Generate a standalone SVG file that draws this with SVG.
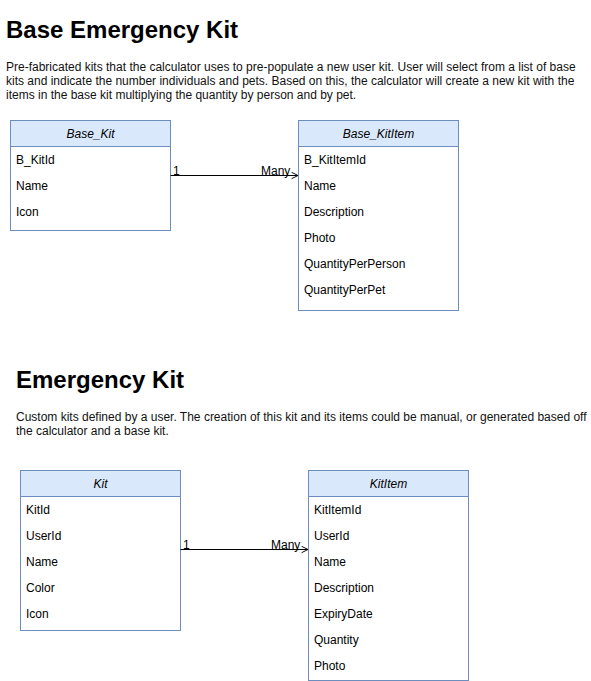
<svg xmlns="http://www.w3.org/2000/svg" width="591" height="681" viewBox="0 0 591 681">
<style>
text{font-family:"Liberation Sans",Arial,sans-serif;fill:#000}
.h{font-size:24px;font-weight:bold}
.p{font-size:12px;fill:#111}
.box{fill:#fff;stroke:#6c8ebf;stroke-width:1}
.hdr{fill:#dae8fc;stroke:#6c8ebf;stroke-width:1}
.t{font-size:12px}
.ti{font-size:12px;font-style:italic;text-anchor:middle}
.edge{stroke:#000;stroke-width:1;fill:none}
.lbl{font-size:12px}
</style>
<defs>
<marker id="open" viewBox="0 0 10 10" refX="9" refY="5" markerWidth="8" markerHeight="8" markerUnits="userSpaceOnUse" orient="auto">
<path d="M1,1 L9,5 L1,9" fill="none" stroke="#000" stroke-width="1.2"/>
</marker>
</defs>
<rect width="591" height="681" fill="#fff"/>
<g id="title1">
<text class="h" x="6" y="38">Base Emergency Kit</text>
<text class="p" x="6" y="71">Pre-fabricated kits that the calculator uses to pre-populate a new user kit. User will select from a list of base</text>
<text class="p" x="6" y="85">kits and indicate the number individuals and pets. Based on this, the calculator will create a new kit with the</text>
<text class="p" x="6" y="99">items in the base kit multiplying the quantity by person and by pet.</text>
</g>
<g id="base_kit">
<rect class="box" x="10.5" y="120.5" width="160" height="110"/>
<rect class="hdr" x="10.5" y="120.5" width="160" height="26"/>
<text class="ti" x="90.5" y="138">Base_Kit</text>
<text class="t" x="16" y="164">B_KitId</text>
<text class="t" x="16" y="190">Name</text>
<text class="t" x="16" y="216">Icon</text>
</g>
<g id="base_kititem">
<rect class="box" x="298.5" y="120.5" width="160" height="190"/>
<rect class="hdr" x="298.5" y="120.5" width="160" height="26"/>
<text class="ti" x="378.5" y="138">Base_KitItem</text>
<text class="t" x="304" y="164">B_KitItemId</text>
<text class="t" x="304" y="190">Name</text>
<text class="t" x="304" y="216">Description</text>
<text class="t" x="304" y="242">Photo</text>
<text class="t" x="304" y="268">QuantityPerPerson</text>
<text class="t" x="304" y="294">QuantityPerPet</text>
</g>
<g id="title2">
<text class="h" x="16" y="388">Emergency Kit</text>
<text class="p" x="16" y="421">Custom kits defined by a user. The creation of this kit and its items could be manual, or generated based off</text>
<text class="p" x="16" y="435">the calculator and a base kit.</text>
</g>
<g id="kit">
<rect class="box" x="20.5" y="470.5" width="160" height="160"/>
<rect class="hdr" x="20.5" y="470.5" width="160" height="26"/>
<text class="ti" x="100.5" y="488">Kit</text>
<text class="t" x="26" y="514">KitId</text>
<text class="t" x="26" y="540">UserId</text>
<text class="t" x="26" y="566">Name</text>
<text class="t" x="26" y="592">Color</text>
<text class="t" x="26" y="618">Icon</text>
</g>
<g id="kititem">
<rect class="box" x="308.5" y="470.5" width="160" height="210"/>
<rect class="hdr" x="308.5" y="470.5" width="160" height="26"/>
<text class="ti" x="388.5" y="488">KitItem</text>
<text class="t" x="314" y="514">KitItemId</text>
<text class="t" x="314" y="540">UserId</text>
<text class="t" x="314" y="566">Name</text>
<text class="t" x="314" y="592">Description</text>
<text class="t" x="314" y="618">ExpiryDate</text>
<text class="t" x="314" y="644">Quantity</text>
<text class="t" x="314" y="670">Photo</text>
</g>
<g id="connectors">
<path class="edge" d="M170.5,175.5 L298,175.5" marker-end="url(#open)"/>
<text class="lbl" x="173" y="175">1</text>
<text class="lbl" x="261" y="175">Many</text>
<path class="edge" d="M180.5,549.5 L308,549.5" marker-end="url(#open)"/>
<text class="lbl" x="183" y="549">1</text>
<text class="lbl" x="271" y="549">Many</text>
</g>
</svg>
